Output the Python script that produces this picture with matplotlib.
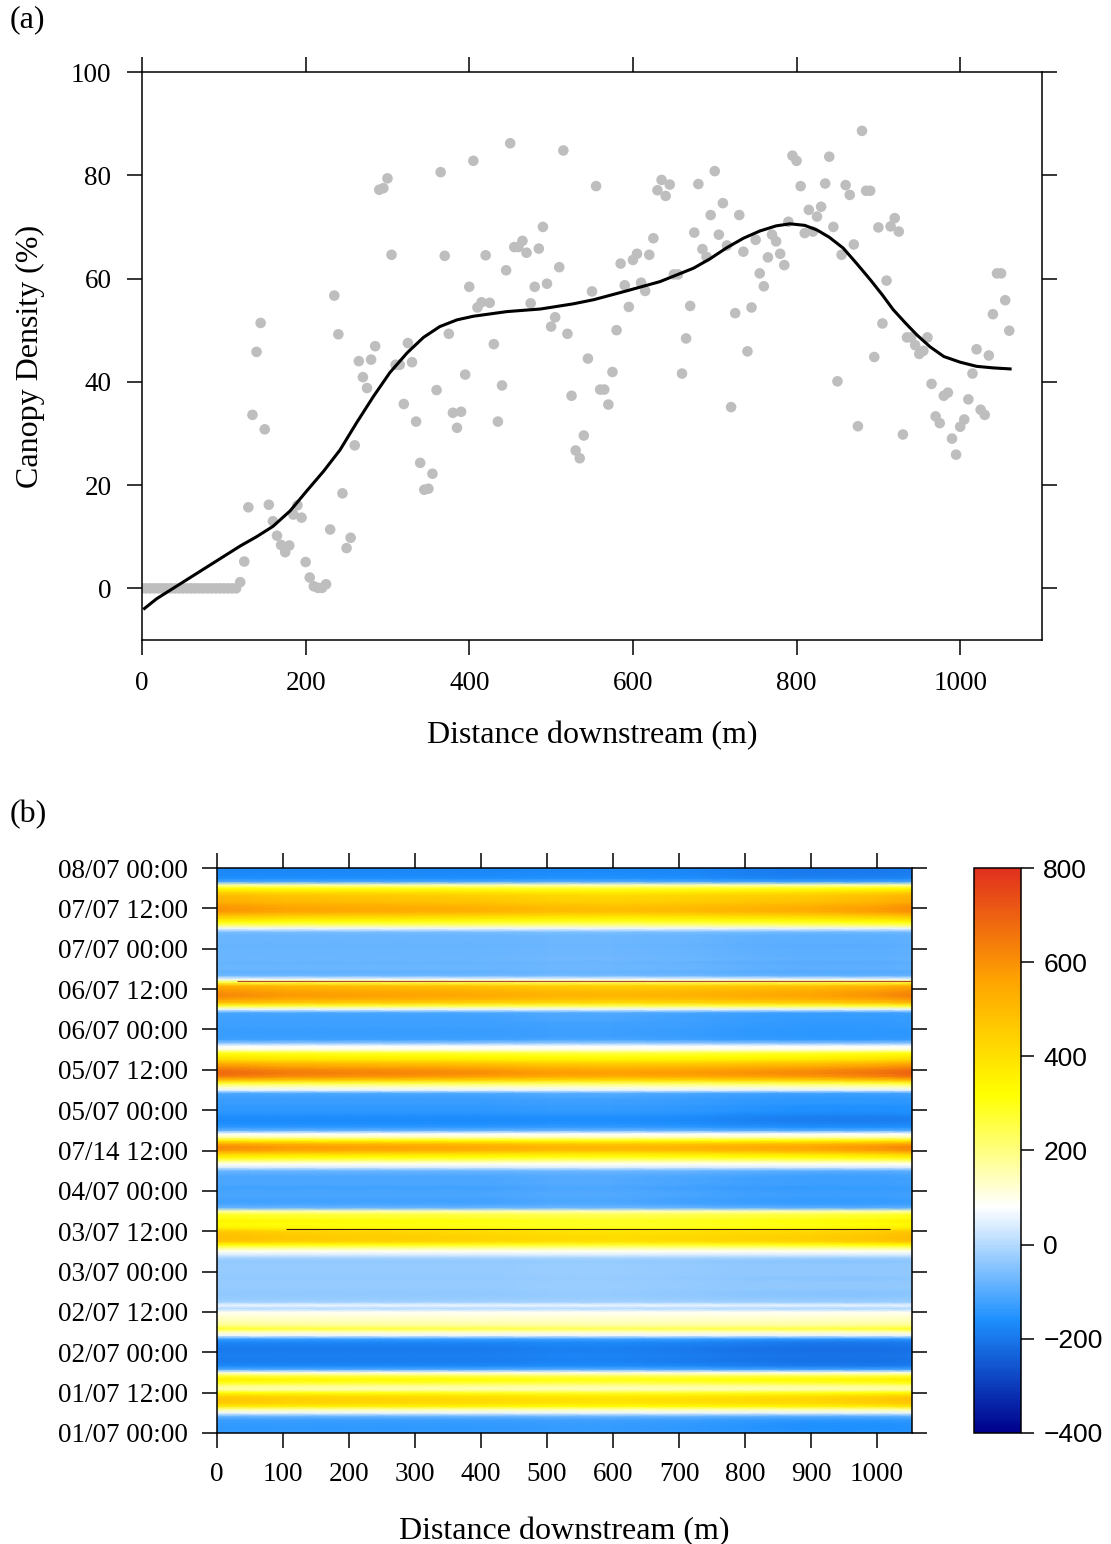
import numpy as np
import matplotlib
matplotlib.use('Agg')
import matplotlib.pyplot as plt
from matplotlib.colors import LinearSegmentedColormap

plt.rcParams['font.family'] = ['Liberation Serif', 'DejaVu Serif']
plt.rcParams['axes.linewidth'] = 1.1

# ---- (a) canopy density along the reach ----
zero_dist = list(range(0, 120, 5))
canopy_dist = list(range(120, 1065, 5))
canopy = [
    1.2, 5.2, 15.7, 33.6, 45.8, 51.4, 30.8, 16.2, 13.0, 10.2, 8.4, 7.0, 8.3, 14.3, 16.1, 13.7, 5.1, 2.1, 0.4, 0.1,
    0.1, 0.8, 11.4, 56.7, 49.2, 18.4, 7.8, 9.8, 27.7, 44.0, 40.9, 38.8, 44.3, 46.9, 77.2, 77.5, 79.4, 64.6, 43.3, 43.3,
    35.7, 47.5, 43.8, 32.3, 24.3, 19.1, 19.3, 22.2, 38.4, 80.6, 64.4, 49.3, 34.0, 31.1, 34.2, 41.4, 58.4, 82.8, 54.4, 55.4,
    64.5, 55.3, 47.3, 32.3, 39.3, 61.6, 86.2, 66.1, 66.1, 67.3, 65.0, 55.2, 58.4, 65.8, 70.0, 59.0, 50.7, 52.5, 62.2, 84.8,
    49.3, 37.3, 26.7, 25.2, 29.6, 44.5, 57.5, 77.9, 38.5, 38.5, 35.6, 41.9, 50.0, 62.9, 58.7, 54.5, 63.6, 64.8, 59.2, 57.6,
    64.6, 67.8, 77.1, 79.1, 76.0, 78.2, 60.8, 60.8, 41.6, 48.4, 54.7, 68.9, 78.3, 65.7, 64.2, 72.3, 80.8, 68.5, 74.6, 66.4,
    35.1, 53.3, 72.3, 65.2, 45.9, 54.4, 67.5, 61.0, 58.5, 64.1, 68.5, 67.2, 64.8, 62.6, 71.0, 83.8, 82.8, 77.9, 68.8, 73.3,
    69.1, 72.0, 73.9, 78.4, 83.6, 70.0, 40.1, 64.6, 78.1, 76.2, 66.6, 31.4, 88.6, 77.0, 77.0, 44.8, 69.9, 51.3, 59.6, 70.1,
    71.7, 69.1, 29.8, 48.6, 48.6, 47.1, 45.4, 46.0, 48.6, 39.6, 33.3, 32.0, 37.3, 37.9, 29.0, 25.9, 31.3, 32.7, 36.6, 41.6,
    46.3, 34.6, 33.6, 45.1, 53.1, 61.0, 61.0, 55.8, 49.9]

smooth_dist = [3, 18, 79, 120, 140, 160, 181, 201, 222, 242, 262, 283, 303, 324, 344, 364, 385, 405, 446, 487,
               527, 552, 592, 633, 674, 694, 715, 735, 755, 775, 792, 810, 825, 840, 857, 873, 890, 905, 918, 933,
               947, 963, 980, 1000, 1020, 1040, 1061]
smooth_canopy = [-3.9, -2.0, 4.1, 8.2, 10.0, 12.0, 15.0, 18.8, 22.7, 26.8, 32.0, 37.2, 41.8, 45.6, 48.6, 50.7,
                 52.0, 52.7, 53.6, 54.1, 55.1, 55.9, 57.6, 59.4, 62.0, 63.8, 66.0, 67.8, 69.2, 70.2, 70.6, 70.3,
                 69.4, 68.0, 65.9, 63.0, 59.8, 56.8, 54.0, 51.4, 49.1, 46.8, 44.9, 43.8, 43.0, 42.7, 42.5]

# ---- (b) energy flux, hourly, one list per day (W m-2) ----
day1 = [-130, -140, -140, -135, -125, -80, 60, 160, 350, 420, 430, 400,
        300, 150, 180, 280, 330, 250, 100, -110, -170, -185, -190, -185]
day2 = [-190, -195, -185, -175, -130, 60, 130, 260, 180, 150, 130, 110,
        90, 0, 60, -20, -30, -35, -35, -30, -30, -30, -35, -30]
day3 = [-30, -30, -30, -35, -20, 40, 90, 180, 300, 430, 450, 440,
        420, 330, 300, 320, 280, 260, 150, -80, -110, -120, -115, -110]
day4 = [-115, -120, -110, -110, -110, -100, -80, 40, 90, 200, 320, 400,
        530, 560, 500, 330, 150, 80, -90, -140, -160, -170, -165, -150]
day5 = [-140, -140, -130, -130, -120, -110, 60, 140, 250, 450, 580, 620,
        600, 540, 480, 380, 330, 280, 120, 80, -40, -120, -130, -130]
day6 = [-130, -125, -125, -120, -120, -110, 60, 250, 450, 520, 560, 550,
        520, 480, 250, 60, -70, -90, -80, -80, -85, -75, -80, -80]
day7 = [-80, -85, -80, -80, -80, -60, 60, 200, 300, 380, 450, 530,
        540, 520, 480, 470, 450, 380, 300, 150, -110, -160, -170, -175]
last_hour = [-170]

dist_nodes = [0, 100, 200, 300, 400, 500, 600, 700, 800, 900, 1000, 1053]
pos_factor = [1.12, 1.05, 1.02, 1.0, 0.97, 0.92, 0.9, 0.92, 0.96, 1.0, 1.08, 1.15]
neg_factor = [1.0, 1.0, 1.0, 1.0, 1.0, 0.97, 0.97, 1.0, 1.05, 1.08, 1.08, 1.06]

# thin artefact rows: hour, start, end
streak_hour = [134.3, 60.6]
streak_start = [30, 105]
streak_end = [1053, 1020]
streak_color = ['#b5452c', '#3a1410']

time_labels = ['01/07 00:00', '01/07 12:00', '02/07 00:00', '02/07 12:00', '03/07 00:00',
               '03/07 12:00', '04/07 00:00', '07/14 12:00', '05/07 00:00', '05/07 12:00',
               '06/07 00:00', '06/07 12:00', '07/07 00:00', '07/07 12:00', '08/07 00:00']

fig = plt.figure(figsize=(11.11, 15.44), dpi=100)

# ---------------- panel (a) ----------------
ax1 = fig.add_axes([142 / 1111, 1 - 640 / 1544, 900 / 1111, 568 / 1544])
ax1.scatter(zero_dist, [0] * len(zero_dist), s=58, color='#bebebe', edgecolors='none', zorder=2)
ax1.scatter(canopy_dist, canopy, s=58, color='#bebebe', edgecolors='none', zorder=2)
ax1.plot(smooth_dist, smooth_canopy, color='black', lw=2.2, zorder=3)
ax1.set_xlim(0, 1100)
ax1.set_ylim(-10, 100)
ax1.set_xticks(range(0, 1001, 200))
ax1.set_yticks(range(0, 101, 20))
ax1.tick_params(direction='out', length=11, width=1.1, labelsize=19.5, pad=11,
                top=True, right=True)
ax1.set_xlabel('Distance downstream (m)', fontsize=23)
ax1.set_ylabel('Canopy Density (%)', fontsize=23)
ax1.xaxis.set_label_coords(0.5, -0.142)
ax1.yaxis.set_label_coords(-0.108, 0.5)
fig.text(10 / 1111, 1 - 20 / 1544, '(a)', fontsize=23, ha='left', va='center')

# ---------------- panel (b) ----------------
cmap = LinearSegmentedColormap.from_list(
    'flux', ['#00008b', '#1e90ff', 'white', 'yellow', 'orange', '#e0301e'])

hours = np.arange(169)
flux = np.array(day1 + day2 + day3 + day4 + day5 + day6 + day7 + last_hour, dtype=float)
pf = np.array(pos_factor)
nf = np.array(neg_factor)
white = 80.0
dev = flux[:, None] - white
grid = np.where(dev > 0, white + dev * pf[None, :], white + dev * nf[None, :])
X, Y = np.meshgrid(dist_nodes, hours)

ax2 = fig.add_axes([217 / 1111, 1 - 1433 / 1544, 695 / 1111, 565 / 1544])
mesh = ax2.pcolormesh(X, Y, grid, shading='gouraud', cmap=cmap, vmin=-400, vmax=800)
for h, x0, x1, c in zip(streak_hour, streak_start, streak_end, streak_color):
    ax2.hlines(h, x0, x1, color=c, lw=0.8)
ax2.set_xlim(0, 1053)
ax2.set_ylim(0, 168)
ax2.set_xticks(range(0, 1001, 100))
ax2.set_yticks(range(0, 169, 12))
ax2.set_yticklabels(time_labels)
ax2.tick_params(direction='out', length=11, width=1.1, labelsize=19.5, pad=10,
                top=True, right=True)
ax2.set_xlabel('Distance downstream (m)', fontsize=23)
ax2.xaxis.set_label_coords(0.5, -0.148)
fig.text(10 / 1111, 1 - 815 / 1544, '(b)', fontsize=23, ha='left', va='center')

cax = fig.add_axes([974 / 1111, 1 - 1433 / 1544, 47 / 1111, 565 / 1544])
cb = fig.colorbar(mesh, cax=cax, ticks=range(-400, 801, 200))
cb.outline.set_linewidth(1.1)
cax.tick_params(direction='out', length=9, width=1.1, labelsize=19, pad=7)
for lab in cax.get_yticklabels():
    lab.set_family('Liberation Sans')

fig.savefig('out.png', dpi=100)
